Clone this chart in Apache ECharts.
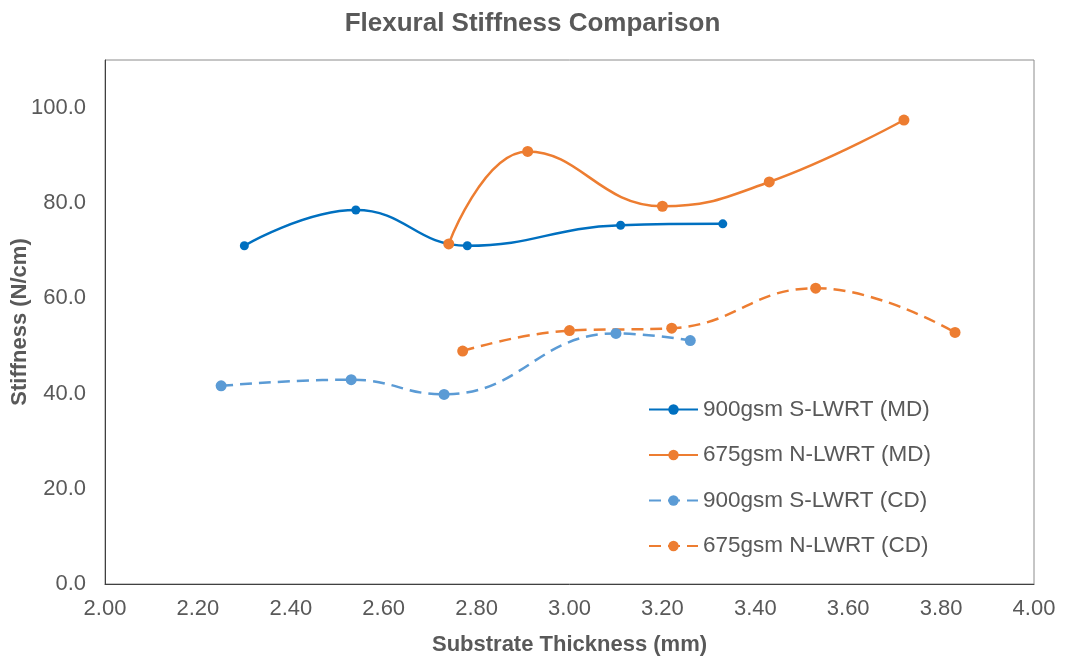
<!DOCTYPE html>
<html><head><meta charset="utf-8">
<script src="https://cdn.jsdelivr.net/npm/echarts@6/dist/echarts.min.js"></script>
<style>html,body{margin:0;padding:0;background:#fff}#c{width:1065px;height:656px}</style>
</head><body><div id="c"></div>
<script>
const seriesNames = ['900gsm S-LWRT (MD)', '675gsm N-LWRT (MD)', '900gsm S-LWRT (CD)', '675gsm N-LWRT (CD)'];
const x900MD = [2.30, 2.54, 2.78, 3.11, 3.33];
const y900MD = [71.0, 78.5, 71.0, 75.3, 75.6];
const x675MD = [2.74, 2.91, 3.20, 3.43, 3.72];
const y675MD = [71.4, 90.8, 79.3, 84.4, 97.4];
const x900CD = [2.25, 2.53, 2.73, 3.10, 3.26];
const y900CD = [41.6, 42.9, 39.8, 52.6, 51.1];
const x675CD = [2.77, 3.00, 3.22, 3.53, 3.83];
const y675CD = [48.9, 53.2, 53.7, 62.1, 52.8];

const pair = (xs, ys) => xs.map((x, i) => [x, ys[i]]);
const font = 'Liberation Sans, Arial, sans-serif';
const txt = '#595959';

function mk(name, data, color, dashed, size) {
  return {
    name, type: 'line', data, smooth: 0.45,
    symbol: 'circle', symbolSize: size,
    itemStyle: { color },
    lineStyle: { color, width: 2.5, type: dashed ? [12, 7] : 'solid' },
    z: dashed ? 2 : 3
  };
}

const chart = echarts.init(document.getElementById('c'));
chart.setOption({
  animation: false,
  backgroundColor: '#fff',
  title: {
    text: 'Flexural Stiffness Comparison', left: 'center', top: 6,
    textStyle: { fontFamily: font, fontSize: 26, fontWeight: 'bold', color: txt }
  },
  grid: { left: 105, top: 60, right: 31, bottom: 72, show: true, borderColor: '#8c8c8c', borderWidth: 1, containLabel: false, outerBoundsMode: 'none' },
  legend: {
    orient: 'vertical', left: 643, top: 393, itemGap: 22.5, itemWidth: 49, itemHeight: 13,
    textStyle: { fontFamily: font, fontSize: 22.5, color: txt },
    data: seriesNames
  },
  xAxis: {
    type: 'value', min: 2.0, max: 4.0, interval: 0.2,
    name: 'Substrate Thickness (mm)', nameLocation: 'middle', nameGap: 50, nameMoveOverlap: false,
    nameTextStyle: { fontFamily: font, fontSize: 22, fontWeight: 'bold', color: txt },
    axisLine: { show: true, lineStyle: { color: '#404040', width: 1 } },
    axisTick: { show: false },
    splitLine: { show: false },
    axisLabel: { fontFamily: font, fontSize: 22, color: txt, margin: 14, formatter: v => v.toFixed(2) }
  },
  yAxis: {
    type: 'value', min: 0, max: 110, interval: 20,
    name: 'Stiffness (N/cm)', nameLocation: 'middle', nameGap: 74, nameRotate: 90, nameMoveOverlap: false,
    nameTextStyle: { fontFamily: font, fontSize: 22, fontWeight: 'bold', color: txt },
    axisLine: { show: true, lineStyle: { color: '#404040', width: 1 } },
    axisTick: { show: false },
    splitLine: { show: false },
    axisLabel: { fontFamily: font, fontSize: 22, color: txt, margin: 19, showMaxLabel: false, formatter: v => v.toFixed(1) }
  },
  series: [
    mk(seriesNames[0], pair(x900MD, y900MD), '#0070C0', false, 9),
    mk(seriesNames[1], pair(x675MD, y675MD), '#ED7D31', false, 11),
    mk(seriesNames[2], pair(x900CD, y900CD), '#5B9BD5', true, 11),
    mk(seriesNames[3], pair(x675CD, y675CD), '#ED7D31', true, 11)
  ]
});
</script></body></html>
